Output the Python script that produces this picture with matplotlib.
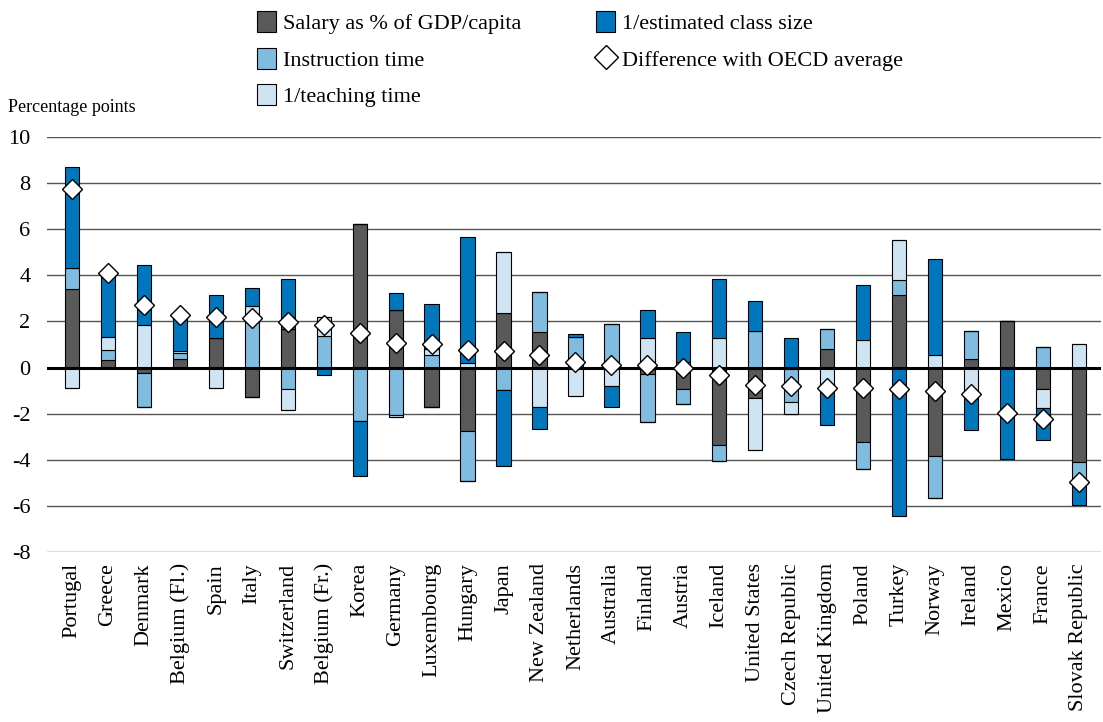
import matplotlib
matplotlib.use("Agg")
import matplotlib.pyplot as plt
from matplotlib.lines import Line2D
from matplotlib.patches import Patch
import numpy as np

countries = ["Portugal", "Greece", "Denmark", "Belgium (Fl.)", "Spain", "Italy",
             "Switzerland", "Belgium (Fr.)", "Korea", "Germany", "Luxembourg",
             "Hungary", "Japan", "New Zealand", "Netherlands", "Australia",
             "Finland", "Austria", "Iceland", "United States", "Czech Republic",
             "United Kingdom", "Poland", "Turkey", "Norway", "Ireland", "Mexico",
             "France", "Slovak Republic"]

salary = [3.39, 0.33, -0.22, 0.35, 1.30, -1.26, 1.66, 0.00, 6.23, 2.50, -1.70,
          -2.74, 2.38, 1.54, 0.00, 0.25, -0.29, -0.95, -3.35, -1.34, -0.05,
          0.82, -3.25, 3.13, -3.82, 0.36, 2.00, -0.91, -4.11]
instruction = [0.94, 0.43, -1.51, 0.27, 0.00, 2.00, -0.92, 1.37, -2.31, -2.06, 0.56,
               -2.17, -0.97, 1.75, 1.34, 1.65, -2.06, -0.61, -0.72, 1.59, -1.44,
               0.87, -1.15, 0.67, -1.85, 1.24, 0.00, 0.91, -0.72]
teaching = [-0.87, 0.57, 1.86, 0.08, -0.87, 0.67, -0.93, 0.82, 0.00, -0.10, 0.23,
            0.20, 2.64, -1.70, -1.23, -0.82, 1.30, 0.22, 1.30, -2.24, -0.53,
            -0.87, 1.20, 1.74, 0.53, -1.01, 0.00, -0.86, 1.01]
class_size = [4.37, 2.78, 2.60, 1.62, 1.86, 0.79, 2.19, -0.32, -2.38, 0.75, 1.97,
              5.47, -3.32, -0.97, 0.13, -0.91, 1.18, 1.34, 2.52, 1.30, 1.27,
              -1.63, 2.39, -6.42, 4.16, -1.69, -3.97, -1.36, -1.12]
difference = [7.76, 4.08, 2.70, 2.29, 2.19, 2.16, 1.98, 1.85, 1.52, 1.05, 1.01,
              0.74, 0.72, 0.55, 0.22, 0.13, 0.10, -0.03, -0.32, -0.75, -0.79,
              -0.87, -0.87, -0.94, -1.01, -1.15, -1.98, -2.24, -4.95]

series = [("Salary as % of GDP/capita", salary, "#595959"),
          ("Instruction time", instruction, "#80BCE0"),
          ("1/teaching time", teaching, "#CFE4F3"),
          ("1/estimated class size", class_size, "#0077BD")]

plt.rcParams["font.family"] = ["Liberation Serif", "DejaVu Serif"]

fig = plt.figure(figsize=(11.03, 7.22), dpi=100)
ax = fig.add_axes([47 / 1103, 1 - 552 / 722, 1054 / 1103, 415 / 722])

x = np.arange(len(countries))
pos_base = np.zeros(len(countries))
neg_base = np.zeros(len(countries))
width = 0.4
for name, vals, col in series:
    v = np.array(vals, dtype=float)
    pos = np.where(v > 0, v, 0)
    neg = np.where(v < 0, v, 0)
    ax.bar(x, pos, width, bottom=pos_base, color=col, edgecolor="black",
           linewidth=0.8, zorder=3)
    ax.bar(x, neg, width, bottom=neg_base, color=col, edgecolor="black",
           linewidth=0.8, zorder=3)
    pos_base += pos
    neg_base += neg

ax.plot(x, difference, linestyle="none", marker="D", markersize=10,
        markerfacecolor="white", markeredgecolor="black", markeredgewidth=1.0,
        zorder=5)

ax.set_ylim(-8, 10)
ax.set_xlim(-0.7, 28.62)
ax.set_yticks(np.arange(-8, 11, 2))
ax.set_yticklabels([str(v) for v in range(-8, 11, 2)], fontsize=16)
for yv in range(-8, 11, 2):
    if yv != 0:
        ax.axhline(yv, color="#555555", linewidth=1.0, zorder=1)
ax.axhline(0, color="black", linewidth=2.2, zorder=4)
for s in ax.spines.values():
    s.set_visible(False)
ax.tick_params(axis="y", length=0, pad=12)
ax.tick_params(axis="x", length=0, pad=8)
ax.set_xticks(x)
ax.set_xticklabels(countries, rotation=90, fontsize=16)

fig.text(8 / 1103, 1 - 107 / 722, "Percentage points", fontsize=13,
         va="center", ha="left")

handles = [Patch(facecolor=c, edgecolor="black", linewidth=0.8) for _, _, c in series[:3]]
handles.append(Patch(facecolor=series[3][2], edgecolor="black", linewidth=0.8))
handles.append(Line2D([], [], linestyle="none", marker="D", markersize=12,
                      markerfacecolor="white", markeredgecolor="black"))
labels = [series[0][0], series[1][0], series[2][0], series[3][0],
          "Difference with OECD average"]
fig.legend(handles, labels, loc="upper left", bbox_to_anchor=(257 / 1103, 1 - 11 / 722),
           ncol=2, frameon=False, fontsize=16, handlelength=0.85, handleheight=1.1,
           handletextpad=0.3, labelspacing=0.6, columnspacing=3.4,
           borderaxespad=0, borderpad=0)

fig.savefig("out.png", dpi=100)
